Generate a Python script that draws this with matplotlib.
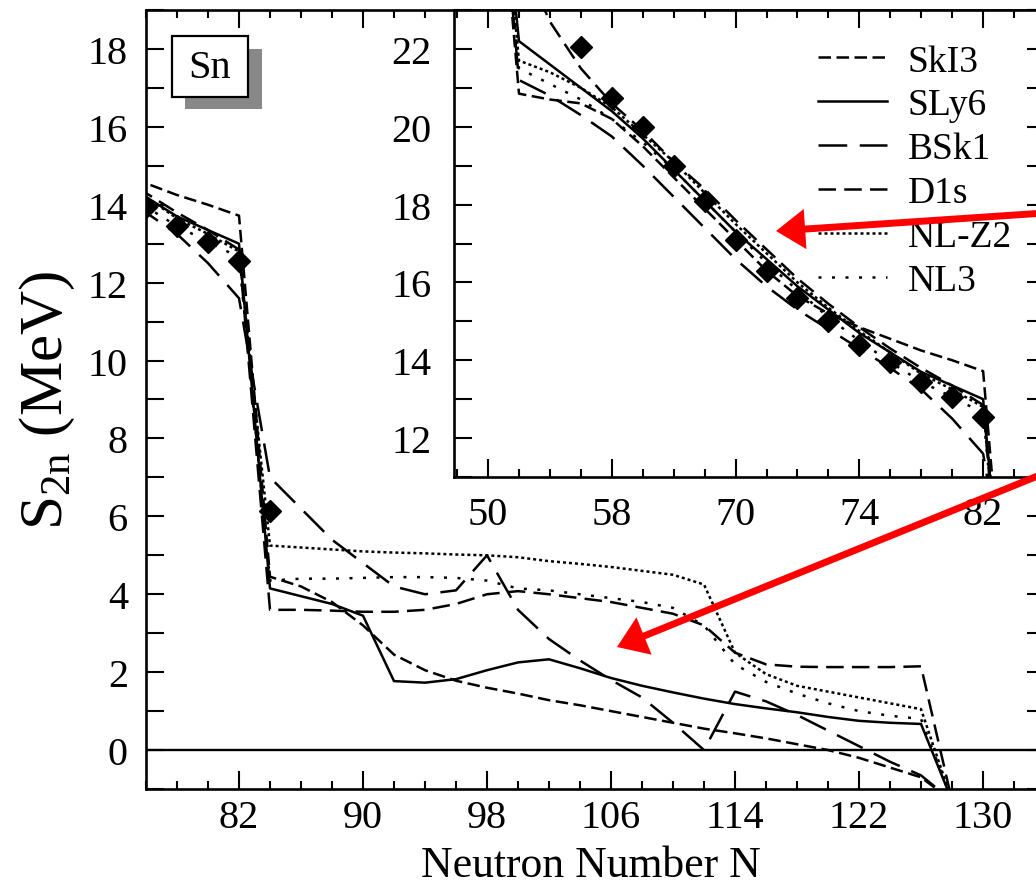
import matplotlib
matplotlib.use("Agg")
import matplotlib.pyplot as plt
from matplotlib.patches import Rectangle, FancyArrowPatch
from matplotlib.ticker import FixedLocator, MultipleLocator

plt.rcParams['font.family'] = ['Liberation Serif', 'DejaVu Serif']
plt.rcParams['mathtext.fontset'] = 'custom'
plt.rcParams['mathtext.rm'] = 'Liberation Serif'
plt.rcParams['mathtext.it'] = 'Liberation Serif:italic'

# ---------------- data ----------------
N = list(range(50, 130, 2))

skI3 = [30, 20.85, 20.7, 20.6, 20.2, 19.5, 18.7, 17.9, 17.1, 16.3, 15.65, 15.2, 14.85, 14.55,
        14.25, 14.0, 13.72, 4.45, 4.2, 3.8, 3.2, 2.45, 2.05, 1.78, 1.6, 1.45, 1.28, 1.15, 1.0,
        0.85, 0.7, 0.55, 0.43, 0.3, 0.15, 0.0, -0.2, -0.45, -0.7, -1.3]
sly6 = [30, 22.2, 21.6, 21.0, 20.4, 19.7, 18.9, 18.1, 17.3, 16.6, 15.9, 15.3, 14.7, 14.2,
        13.7, 13.35, 13.0, 4.15, 3.95, 3.75, 3.45, 1.77, 1.73, 1.82, 2.05, 2.25, 2.33, 2.1, 1.85,
        1.65, 1.48, 1.32, 1.18, 1.07, 0.97, 0.85, 0.75, 0.7, 0.67, -1.3]
bsk1 = [30, 21.2, 20.8, 20.3, 19.75, 19.0, 18.2, 17.4, 16.6, 15.9, 15.3, 14.8, 14.3, 13.8,
        13.25, 12.5, 11.6, 7.0, 6.2, 5.4, 4.8, 4.2, 4.0, 4.1, 5.0, 3.6, 2.85, 2.3, 1.8,
        1.35, 0.7, 0.0, 1.5, 1.25, 0.9, 0.5, 0.1, -0.3, -0.65, -1.3]
d1s = [30, 24.5, 22.7, 21.5, 20.6, 19.9, 19.1, 18.4, 17.6, 16.85, 16.1, 15.45, 14.85, 14.3,
       13.8, 13.35, 12.85, 3.6, 3.6, 3.58, 3.55, 3.55, 3.6, 3.75, 4.0, 4.08, 4.0, 3.9, 3.8,
       3.65, 3.5, 3.2, 2.5, 2.2, 2.14, 2.13, 2.13, 2.13, 2.15, -1.3]
nlz2 = [30, 21.7, 21.4, 21.0, 20.5, 19.8, 19.1, 18.3, 17.5, 16.75, 16.0, 15.35, 14.75, 14.2,
        13.65, 13.25, 12.8, 5.25, 5.2, 5.15, 5.1, 5.07, 5.05, 5.02, 5.0, 4.95, 4.85, 4.78, 4.7,
        4.6, 4.5, 4.25, 2.5, 1.95, 1.65, 1.5, 1.35, 1.2, 1.05, -1.3]
nl3 = [30, 21.5, 21.1, 20.7, 20.2, 19.6, 18.9, 18.1, 17.3, 16.5, 15.8, 15.1, 14.5, 13.95,
       13.45, 13.05, 12.65, 4.35, 4.4, 4.4, 4.42, 4.44, 4.44, 4.42, 4.35, 4.15, 4.1, 4.0, 3.9,
       3.8, 3.65, 3.2, 2.2, 1.75, 1.45, 1.2, 1.0, 0.88, 0.8, -1.3]

N_exp = list(range(56, 86, 2))
S_exp = [22.05, 20.75, 20.0, 19.0, 18.1, 17.1, 16.3, 15.6, 15.0, 14.4, 13.95, 13.45, 13.05,
         12.55, 6.15]

labels = ['SkI3', 'SLy6', 'BSk1', 'D1s', 'NL-Z2', 'NL3']
main_xticks = [82, 90, 98, 106, 114, 122, 130]
inset_xticks = [50, 58, 66, 74, 82]
inset_xticklabels = ['50', '58', '70', '74', '82']

# ---------------- styles ----------------
LW = 1.8
styles = {
    'SkI3': (0, (5.0, 2.2)),
    'SLy6': '-',
    'BSk1': (0, (11.5, 5.0)),
    'D1s': (0, (7.0, 3.3)),
    'NL-Z2': (0, (1.2, 1.2)),
    'NL3': (0, (1.2, 4.2)),
}
series = [skI3, sly6, bsk1, d1s, nlz2, nl3]

W, H = 1036, 895
fig = plt.figure(figsize=(W / 100, H / 100), dpi=100)


def fx(px):
    return px / W


def fy(py):
    return 1 - py / H


ax = fig.add_axes([fx(146), fy(790), (1045 - 146) / W, (790 - 11) / H])
ins = fig.add_axes([fx(454), fy(478), (1045 - 454) / W, (478 - 11) / H])

TICKFS = 29
for a in (ax, ins):
    for sp in a.spines.values():
        sp.set_linewidth(1.9)
    a.tick_params(which='both', direction='in', top=True, right=True, width=1.5,
                  labelsize=TICKFS)

# main axes
for lab, ys in zip(labels, series):
    ax.plot(N, ys, color='black', lw=LW, linestyle=styles[lab])
ax.plot(N_exp, S_exp, linestyle='none', marker='D', ms=11.5, color='black')
ax.axhline(0, color='black', lw=1.7)
ax.set_xlim(76, 134)
ax.set_ylim(-1, 19)
ax.xaxis.set_major_locator(FixedLocator(main_xticks))
ax.xaxis.set_minor_locator(FixedLocator(list(range(76, 136, 2))))
ax.yaxis.set_major_locator(MultipleLocator(2))
ax.yaxis.set_minor_locator(MultipleLocator(1))
ax.tick_params(axis='x', which='major', length=13, pad=7.5)
ax.tick_params(axis='x', which='minor', length=6)
ax.tick_params(axis='y', which='both', length=13, pad=13)
ax.set_xlabel('Neutron Number N', fontsize=31.5)
ax.xaxis.set_label_coords(0.495, -0.0722)
ax.set_ylabel(r'$\mathrm{S}_{\mathrm{2n}}$ (MeV)', fontsize=44, labelpad=8)

# inset
ins.set_facecolor('white')
handles = []
for lab, ys in zip(labels, series):
    h, = ins.plot(N, ys, color='black', lw=LW, linestyle=styles[lab], label=lab)
    handles.append(h)
ins.plot(N_exp, S_exp, linestyle='none', marker='D', ms=11.5, color='black')
ins.set_xlim(47.8, 86.0)
ins.set_ylim(11, 23)
ins.xaxis.set_major_locator(FixedLocator(inset_xticks))
ins.set_xticklabels(inset_xticklabels)
ins.xaxis.set_minor_locator(FixedLocator(list(range(48, 88, 2))))
ins.yaxis.set_major_locator(MultipleLocator(2))
ins.yaxis.set_minor_locator(MultipleLocator(1))
ins.tick_params(axis='x', which='major', length=13, pad=14)
ins.tick_params(axis='x', which='minor', length=6)
ins.tick_params(axis='y', which='both', length=13, pad=16)

leg = ins.legend(handles=handles, loc='upper left', bbox_to_anchor=(fx(818), fy(45)),
                 bbox_transform=fig.transFigure, frameon=False, fontsize=27,
                 handlelength=1.85, handletextpad=0.55, labelspacing=0.25,
                 borderpad=0, borderaxespad=0)

# Sn label box with shadow
fig.add_artist(Rectangle((fx(185), fy(110)), (262 - 185) / W, (110 - 50) / H,
                         transform=fig.transFigure, facecolor='#888888',
                         edgecolor='none', zorder=5))
fig.add_artist(Rectangle((fx(172), fy(98)), (248 - 172) / W, (98 - 37) / H,
                         transform=fig.transFigure, facecolor='white',
                         edgecolor='black', lw=1.6, zorder=6))
fig.text(fx(210), fy(68), 'Sn', ha='center', va='center', fontsize=29, zorder=7)

# red arrows
for (x0, y0), (x1, y1) in [((1045, 214), (776, 232)), ((1045, 474), (617, 648))]:
    arr = FancyArrowPatch((fx(x0), fy(y0)), (fx(x1), fy(y1)), transform=fig.transFigure,
                          arrowstyle='simple,head_length=2.1,head_width=2.9,tail_width=0.5',
                          mutation_scale=10, color='#ff0000', lw=0, shrinkA=0, shrinkB=0,
                          zorder=10)
    fig.add_artist(arr)

fig.savefig('out.png', dpi=100)
